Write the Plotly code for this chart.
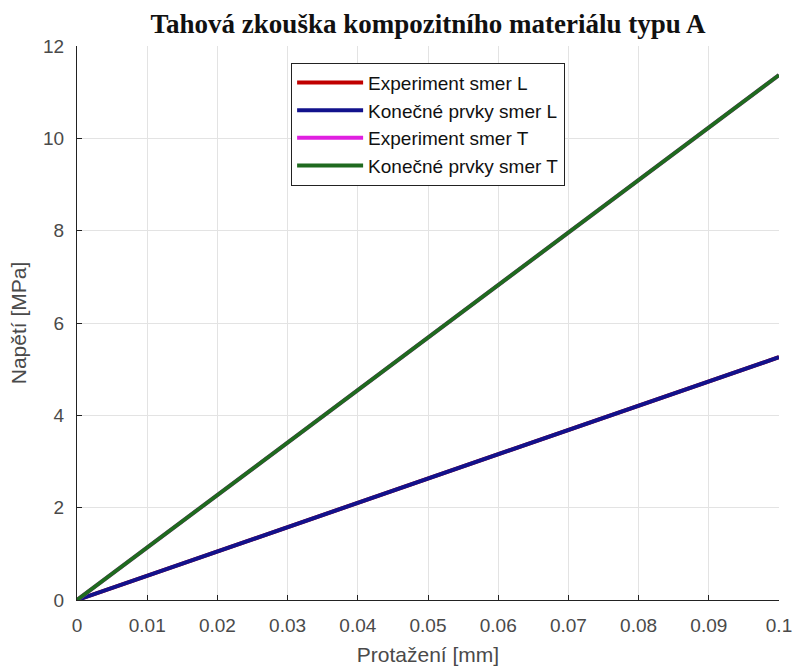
import plotly.graph_objects as go

# Data
x_vals = [0.0, 0.05, 0.1]
exp_L = [0.0, 2.63, 5.26]
fem_L = [0.0, 2.63, 5.26]
exp_T = [0.0, 5.68, 11.37]
fem_T = [0.0, 5.68, 11.37]

x_ticks = [0, 0.01, 0.02, 0.03, 0.04, 0.05, 0.06, 0.07, 0.08, 0.09, 0.1]
x_tick_labels = ["0", "0.01", "0.02", "0.03", "0.04", "0.05", "0.06", "0.07", "0.08", "0.09", "0.1"]
y_ticks = [0, 2, 4, 6, 8, 10, 12]

names = ["Experiment smer L", "Konečné prvky smer L", "Experiment smer T", "Konečné prvky smer T"]
colors = ["#c00000", "#12128c", "#e020e0", "#1f6a1f"]
series = [exp_L, fem_L, exp_T, fem_T]

fig = go.Figure()
for n, c, s in zip(names, colors, series):
    fig.add_trace(go.Scatter(x=x_vals, y=s, mode="lines", name=n,
                             line=dict(color=c, width=4)))

sans = "Liberation Sans, Arial"
axis_font = dict(family=sans, size=19, color="#4a4a4a")
title_font = dict(family=sans, size=21, color="#4a4a4a")
fig.update_layout(
    width=799, height=669,
    margin=dict(l=77, r=20, t=46, b=69),
    paper_bgcolor="white", plot_bgcolor="white",
    title=dict(text="<b>Tahová zkouška kompozitního materiálu typu A</b>",
               font=dict(family="Liberation Serif, Times New Roman", size=27, color="#111111"),
               x=(77 + 779) / 2 / 799, xanchor="center", y=1 - 24 / 669, yanchor="middle"),
    showlegend=True,
    legend=dict(x=0.305, y=0.97, xanchor="left", yanchor="top",
                bgcolor="white", bordercolor="#222222", borderwidth=1,
                font=dict(family=sans, size=19, color="#111111"),
                tracegroupgap=0, itemwidth=66),
    xaxis=dict(range=[0, 0.1], tickvals=x_ticks, ticktext=x_tick_labels,
               showgrid=True, gridcolor="#e3e3e3", gridwidth=1,
               showline=True, linecolor="#222222", linewidth=1,
               ticks="inside", ticklen=5, tickcolor="#222222",
               tickfont=axis_font, zeroline=False, ticklabelstandoff=8,
               automargin=False,
               title=dict(text="Protažení [mm]", font=title_font, standoff=12)),
    yaxis=dict(range=[0, 12], tickvals=y_ticks,
               showgrid=True, gridcolor="#e3e3e3", gridwidth=1,
               showline=True, linecolor="#222222", linewidth=1,
               ticks="inside", ticklen=5, tickcolor="#222222",
               tickfont=axis_font, zeroline=False, ticklabelstandoff=8,
               automargin=False,
               title=dict(text="Napětí [MPa]", font=title_font, standoff=10)),
)

fig.write_html("out.html")
